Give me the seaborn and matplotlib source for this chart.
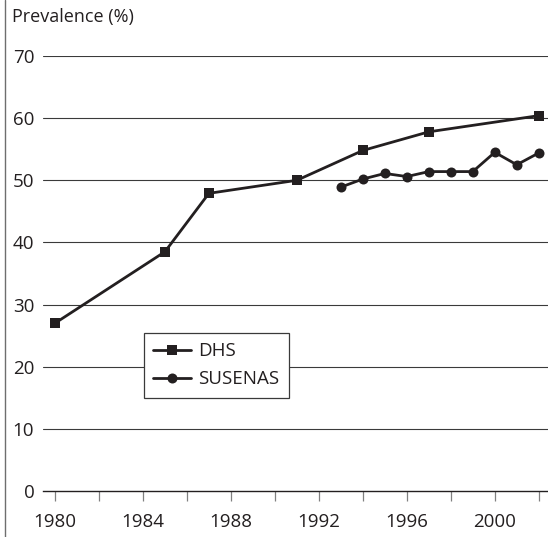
import pandas as pd
import seaborn as sns
import matplotlib.pyplot as plt
from matplotlib.lines import Line2D

# values
dhs_years = [1980, 1985, 1987, 1991, 1994, 1997, 2002]
dhs_values = [27.0, 38.5, 47.9, 50.0, 54.8, 57.8, 60.4]

susenas_years = [1993, 1994, 1995, 1996, 1997, 1998, 1999, 2000, 2001, 2002]
susenas_values = [48.9, 50.2, 51.1, 50.6, 51.4, 51.4, 51.4, 54.5, 52.5, 54.4]

y_ticks = [0, 10, 20, 30, 40, 50, 60, 70]
x_ticks = list(range(1980, 2003, 2))
x_labels = [str(y) if (y - 1980) % 4 == 0 else '' for y in x_ticks]

df = pd.concat([
  pd.DataFrame({'year': dhs_years, 'value': dhs_values, 'source': 'DHS'}),
  pd.DataFrame({'year': susenas_years, 'value': susenas_values, 'source': 'SUSENAS'}),
])

sns.set_theme(style='white')
plt.rcParams['font.family'] = ['Open Sans', 'DejaVu Sans']

ink = '#231f20'
fig = plt.figure(figsize=(5.48, 5.37), dpi=100)
ax = fig.add_axes([43.3 / 548, 1 - 491 / 537, 1 - 43.3 / 548, (491 - 56) / 537])

sns.lineplot(data=df, x='year', y='value', hue='source', style='source',
             markers={'DHS': 's', 'SUSENAS': 'o'}, dashes=False,
             palette={'DHS': ink, 'SUSENAS': ink}, linewidth=2.0,
             markersize=7.2, markeredgewidth=0, ax=ax, clip_on=False)

ax.set_xlim(1979.47, 2002.42)
ax.set_ylim(0, 70)
ax.set_yticks(y_ticks)
ax.set_xticks(x_ticks)
ax.set_xticklabels(x_labels)
ax.set_xlabel('')
ax.set_ylabel('')

for y in y_ticks[1:]:
  ax.axhline(y, color='#3a3a3a', linewidth=0.8, zorder=0)

for side in ['top', 'right', 'left']:
  ax.spines[side].set_visible(False)
ax.spines['bottom'].set_color(ink)
ax.spines['bottom'].set_linewidth(1.0)

ax.tick_params(axis='x', bottom=True, direction='out', length=7.5, width=0.9,
               color='#808080', pad=8, labelsize=13.5, labelcolor=ink)
ax.tick_params(axis='y', left=False, length=0, pad=6.5, labelsize=13.5, labelcolor=ink)

fig.text(12 / 548, 1 - 17 / 537, 'Prevalence (%)', fontsize=13, color=ink,
         ha='left', va='center')

# thin frame line at the left edge of the picture
fig.add_artist(Line2D([5 / 548, 5 / 548], [0, 1], transform=fig.transFigure,
                      color='#6e6e6e', linewidth=1.0))

leg = ax.legend(loc='upper left', bbox_to_anchor=(144 / 548, 1 - 332.7 / 537),
                bbox_transform=fig.transFigure, borderaxespad=0, fontsize=13.5,
                handlelength=2.0, handletextpad=0.4, borderpad=0.5,
                labelspacing=0.55, fancybox=False, framealpha=1, title=None)
leg.get_frame().set_edgecolor('#3a3a3a')
leg.get_frame().set_linewidth(0.9)
for t in leg.get_texts():
  t.set_color(ink)

fig.savefig('out.png', dpi=100)
